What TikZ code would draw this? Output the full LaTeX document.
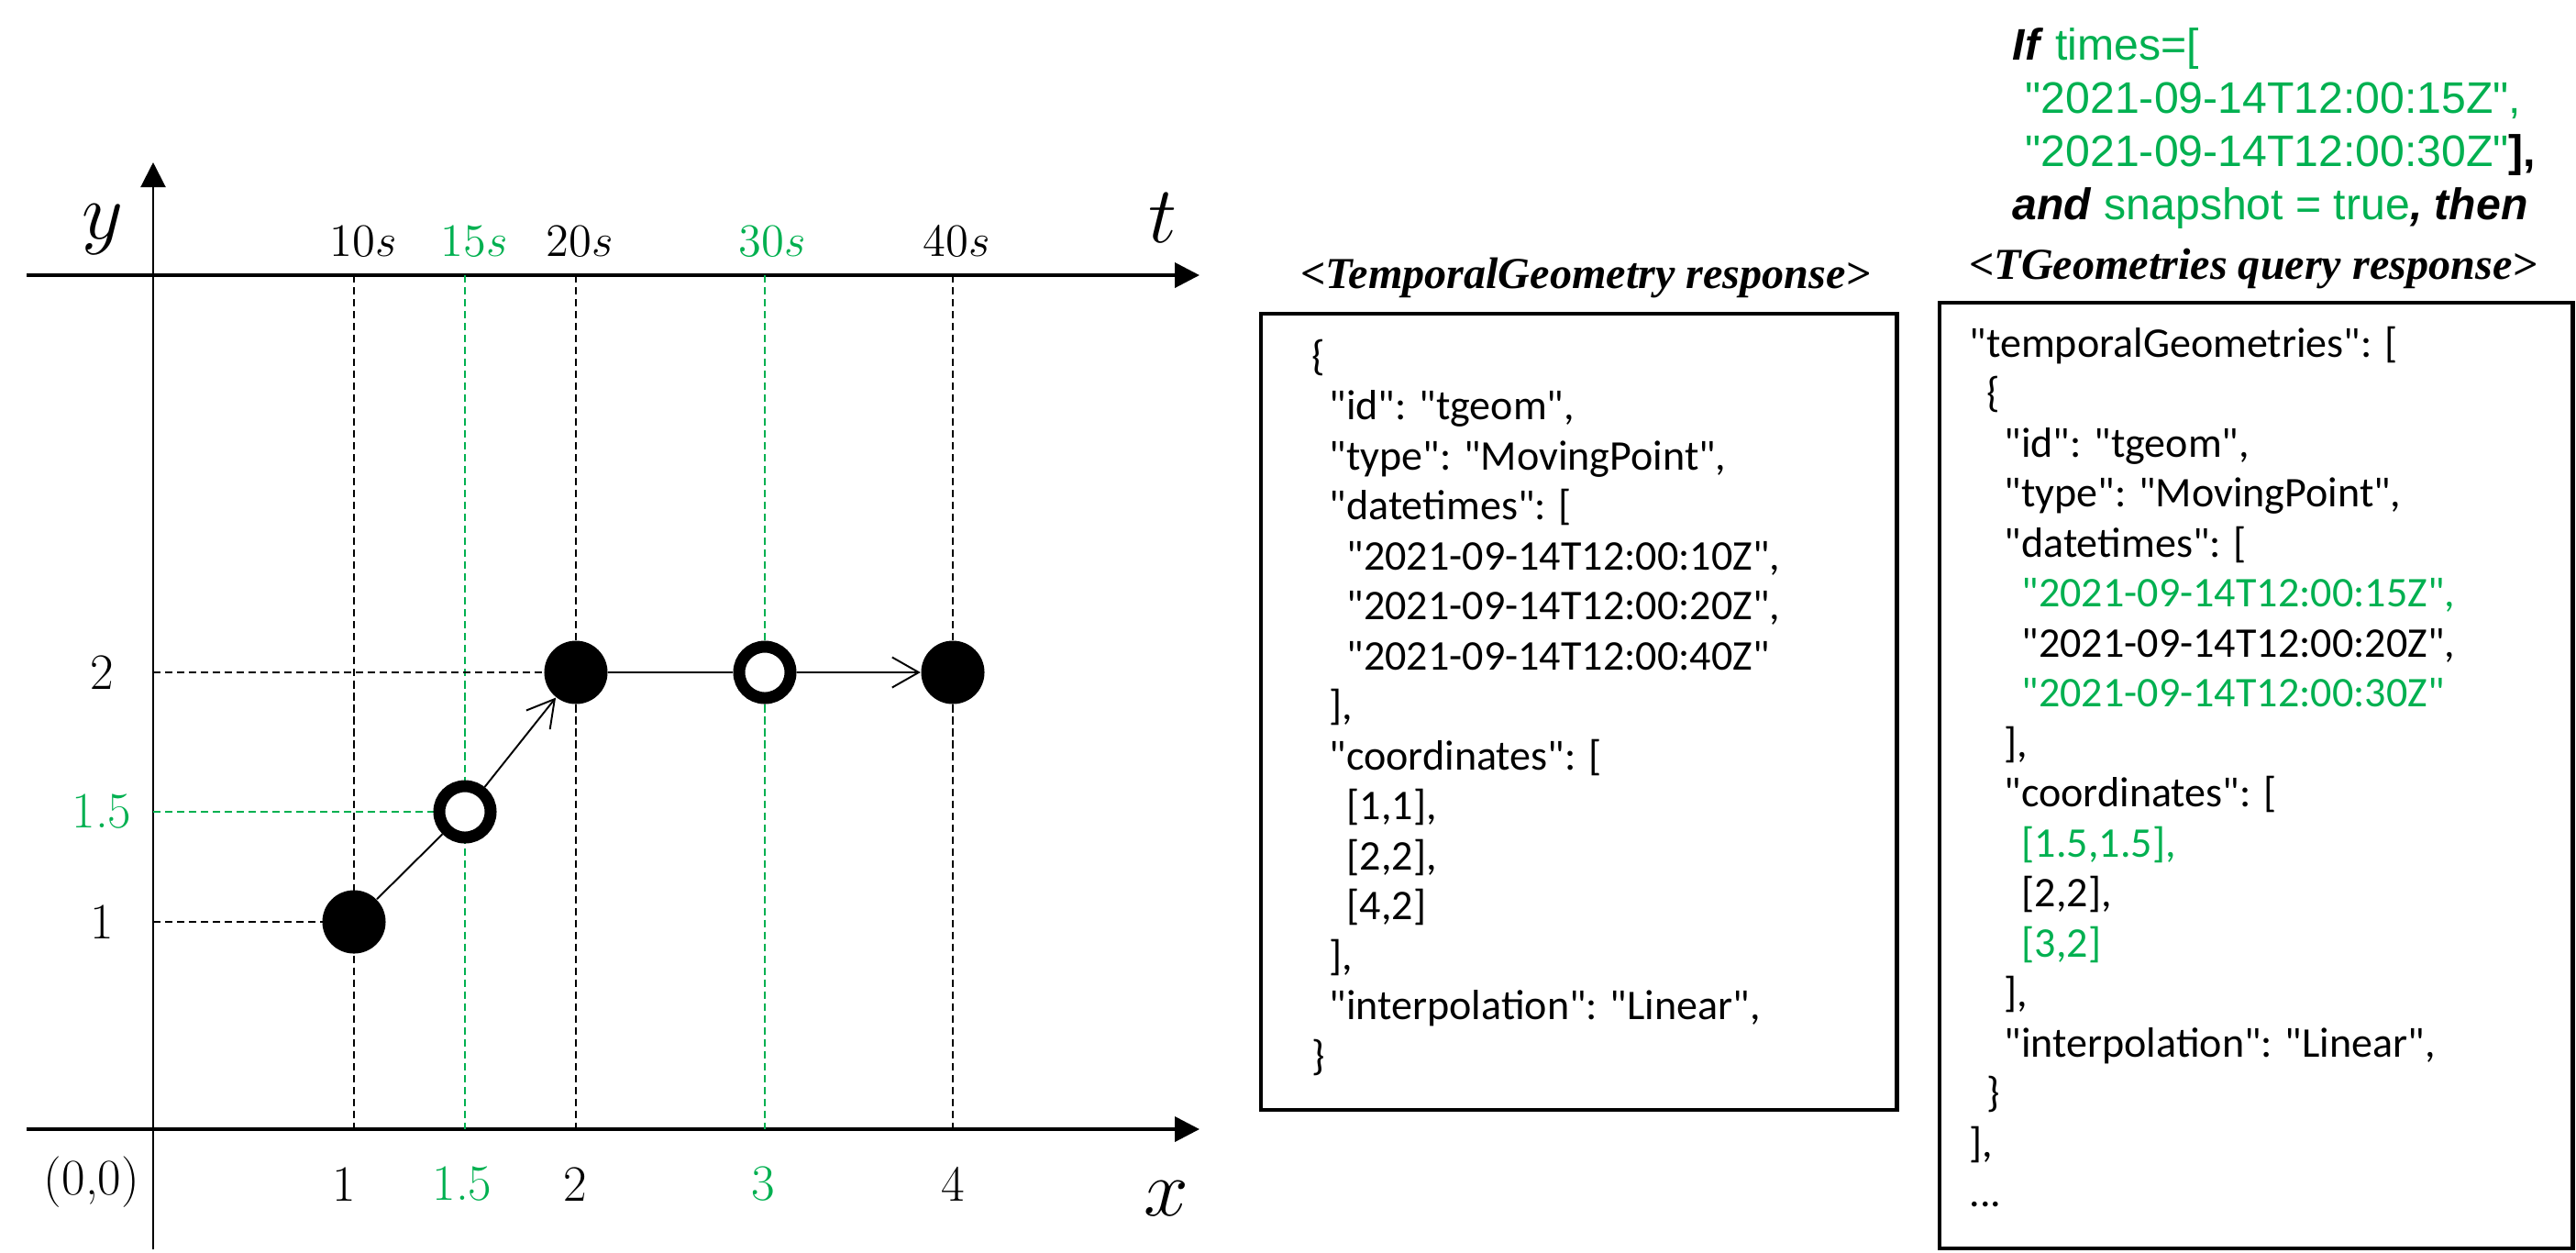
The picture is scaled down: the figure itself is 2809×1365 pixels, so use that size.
\documentclass[tikz,border=0pt]{standalone}
\usepackage{fontspec}
\newfontfamily\jsonfont{Carlito}
\newfontfamily\arialfont{Liberation Sans}
\newfontfamily\timesfont{Liberation Serif}
\usetikzlibrary{arrows.meta, positioning}
\definecolor{okgreen}{RGB}{0,176,80}
\newlength\jinstep
\setlength\jinstep{0.19cm}
\newcommand\jin[1]{\hspace*{#1\jinstep}}

\begin{document}
\begin{tikzpicture}[x=0.01cm, y=-0.01cm,
  every node/.style={inner sep=0pt},
  axis/.style={line width=1.1pt, -{Triangle[length=2.7mm, width=2.7mm]}},
  guide/.style={line width=0.45pt, dash pattern=on 2.3pt off 1.4pt},
  gguide/.style={guide, draw=okgreen},
  dot/.style={circle, fill=black, minimum size=6.9mm},
  hollow/.style={circle, draw, fill=white, line width=1.3mm, minimum size=5.6mm},
  move/.style={line width=0.55pt},
  barb/.style={move, -{Straight Barb[length=2.9mm, width=3.3mm]}},
  tick/.style={font=\fontsize{15.8}{18}\selectfont},
  axlabel/.style={font=\fontsize{26}{30}\selectfont},
  json/.style={font=\jsonfont\fontsize{13.1}{15.5}\selectfont, align=left, anchor=north west},
  title/.style={font=\timesfont\bfseries\itshape\fontsize{13.7}{16}\selectfont},
  jbox/.style={draw, line width=1.2pt, anchor=north west}]
\useasboundingbox (0,0) rectangle (2809,1365);

% axes
\draw[axis] (29,300) -- (1308,300);
\draw[axis] (29,1231) -- (1308,1231);
\draw[axis, line width=0.6pt] (167,1362) -- (167,177);

% guide lines
\foreach \gx/\gs in {386/guide, 507/gguide, 628/guide, 834/gguide, 1039/guide}
  \draw[\gs] (\gx,300) -- (\gx,1231);
\draw[guide] (167,733) -- (628,733);
\draw[gguide] (167,885) -- (507,885);
\draw[guide] (167,1005) -- (386,1005);

% moving point
\node[dot] (p10) at (386,1005) {};
\node[hollow] (p15) at (507,885) {};
\node[dot] (p20) at (628,733) {};
\node[hollow] (p30) at (834,733) {};
\node[dot] (p40) at (1039,733) {};
\draw[move] (p10) -- (p15);
\draw[barb] (p15) -- (p20);
\draw[move] (p20) -- (p30);
\draw[barb] (p30) -- (p40);

% tick labels
\foreach \lx/\lt/\lc [count=\i] in {396/10/black, 517/15/okgreen, 632/20/black, 842/30/okgreen, 1043/40/black}
  \node[tick, text=\lc] (ts\i) at (\lx,263) {$\lt s$};
\foreach \lx/\lt/\lc [count=\i] in {375/1/black, 504/1.5/okgreen, 627/2/black, 832/3/okgreen, 1039/4/black}
  \node[tick, text=\lc] (xs\i) at (\lx,1291) {\lt};
\foreach \ly/\lt/\lc [count=\i] in {1005/1/black, 885/1.5/okgreen, 733/2/black}
  \node[tick, text=\lc] (ys\i) at (111,\ly) {\lt};
\node[tick] (orig) at (100,1289) {(0,0)};
\node[axlabel] (ylab) at (112,250) {$y$};
\node[axlabel] (tlab) at (1268,238) {$t$};
\node[axlabel] (xlab) at (1272,1307) {$x$};

% query condition
\node[anchor=north west, align=left, font=\arialfont\fontsize{13.7}{16.5}\selectfont] (cond) at (2194,30)
  {\textbf{\textit{If}} \textcolor{okgreen}{times=[}\\
   \hspace*{0.14cm}\textcolor{okgreen}{"2021-09-14T12:00:15Z",}\\
   \hspace*{0.14cm}\textcolor{okgreen}{"2021-09-14T12:00:30Z"}\textbf{],}\\
   \textbf{\textit{and}} \textcolor{okgreen}{snapshot = true}\textbf{\textit{, then}}};

% responses
\node[title] (tgtitle) at (1729,303) {<TemporalGeometry response>};
\node[title] (qtitle) at (2457,293) {<TGeometries query response>};
\node[jbox, minimum width=6.93cm, minimum height=8.67cm] (tgbox) at (1373,340) {};
\node[jbox, minimum width=6.9cm, minimum height=10.3cm] (qbox) at (2113,328) {};

\node[json] (tgtext) at (1430,369) {\{\\
\jin1"id": "tgeom",\\
\jin1"type": "MovingPoint",\\
\jin1"datetimes": [\\
\jin2"2021-09-14T12:00:10Z",\\
\jin2"2021-09-14T12:00:20Z",\\
\jin2"2021-09-14T12:00:40Z"\\
\jin1],\\
\jin1"coordinates": [\\
\jin2[1,1],\\
\jin2[2,2],\\
\jin2[4,2]\\
\jin1],\\
\jin1"interpolation": "Linear",\\
\}};

\node[json] (qtext) at (2147,355) {"temporalGeometries": [\\
\jin1\{\\
\jin2"id": "tgeom",\\
\jin2"type": "MovingPoint",\\
\jin2"datetimes": [\\
\jin3\textcolor{okgreen}{"2021-09-14T12:00:15Z",}\\
\jin3"2021-09-14T12:00:20Z",\\
\jin3\textcolor{okgreen}{"2021-09-14T12:00:30Z"}\\
\jin2],\\
\jin2"coordinates": [\\
\jin3\textcolor{okgreen}{[1.5,1.5],}\\
\jin3[2,2],\\
\jin3\textcolor{okgreen}{[3,2]}\\
\jin2],\\
\jin2"interpolation": "Linear",\\
\jin1\}\\
{}],\\
...};
\end{tikzpicture}
\end{document}
